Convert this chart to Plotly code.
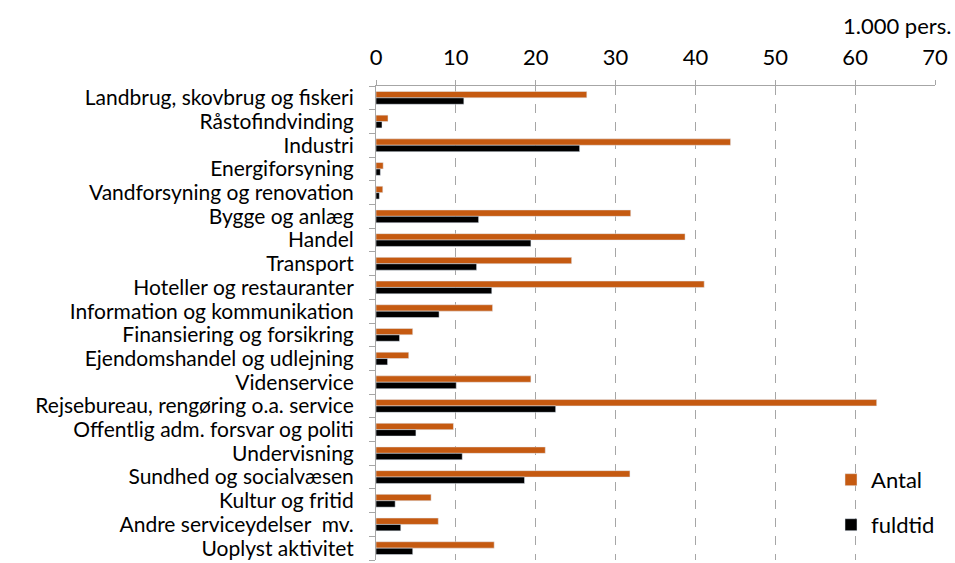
import plotly.graph_objects as go

categories = [
    "Landbrug, skovbrug og fiskeri", "Råstofindvinding", "Industri", "Energiforsyning",
    "Vandforsyning og renovation", "Bygge og anlæg", "Handel", "Transport",
    "Hoteller og restauranter", "Information og kommunikation", "Finansiering og forsikring",
    "Ejendomshandel og udlejning", "Videnservice", "Rejsebureau, rengøring o.a. service",
    "Offentlig adm. forsvar og politi", "Undervisning", "Sundhed og socialvæsen",
    "Kultur og fritid", "Andre serviceydelser  mv.", "Uoplyst aktivitet",
]
antal = [26.4, 1.5, 44.4, 0.9, 0.85, 31.9, 38.7, 24.5, 41.1, 14.6, 4.6, 4.1, 19.4, 62.7,
         9.7, 21.2, 31.8, 6.9, 7.8, 14.8]
fuldtid = [11.0, 0.75, 25.5, 0.55, 0.42, 12.85, 19.4, 12.6, 14.5, 7.9, 2.95, 1.45, 10.05, 22.5,
           5.0, 10.8, 18.6, 2.4, 3.1, 4.6]
x_ticks = [0, 10, 20, 30, 40, 50, 60, 70]

FONT = "Lato"
FS = 22
fig = go.Figure()
fig.add_trace(go.Bar(y=categories, x=antal, orientation="h", name="Antal",
                     marker=dict(color="#C55A11"), legend="legend"))
fig.add_trace(go.Bar(y=categories, x=fuldtid, orientation="h", name="fuldtid",
                     marker=dict(color="#000000"), legend="legend2"))

fig.update_layout(
    width=955, height=563,
    margin=dict(l=376, r=20, t=86, b=3, autoexpand=False),
    paper_bgcolor="white", plot_bgcolor="white",
    barmode="group", bargap=0.46, bargroupgap=0.0,
    font=dict(family=FONT, size=FS, color="#000000"),
    showlegend=True,
    legend=dict(x=0.814, y=0.169, xanchor="left", yanchor="middle",
                bgcolor="rgba(0,0,0,0)", font=dict(size=FS)),
    legend2=dict(x=0.814, y=0.074, xanchor="left", yanchor="middle",
                 bgcolor="rgba(0,0,0,0)", font=dict(size=FS)),
    xaxis=dict(side="top", range=[0, 70], tickvals=x_ticks, ticktext=[str(v) for v in x_ticks],
               showgrid=True, gridcolor="#A6A6A6", griddash="dash", gridwidth=1,
               showline=True, linecolor="#A6A6A6", linewidth=1,
               ticks="outside", ticklen=5, tickcolor="#A6A6A6",
               zeroline=False, tickfont=dict(size=FS), ticklabelstandoff=6),
    yaxis=dict(autorange="reversed", showline=True, linecolor="#A6A6A6", linewidth=1,
               tickmode="array", tickvals=categories, ticktext=categories,
               ticks="outside", ticklen=6, tickcolor="#A6A6A6", tickson="boundaries",
               showgrid=False, tickfont=dict(size=21), ticklabelstandoff=17),
    annotations=[dict(text="1.000 pers.", xref="paper", yref="paper", x=1.0, y=1.0,
                      xanchor="right", yanchor="middle", xshift=18, yshift=61,
                      showarrow=False, font=dict(size=FS))],
)

fig.write_html(
    "out.html",
    config={"displayModeBar": False},
    post_script="document.body.style.margin='0';document.body.style.overflow='hidden';",
)
